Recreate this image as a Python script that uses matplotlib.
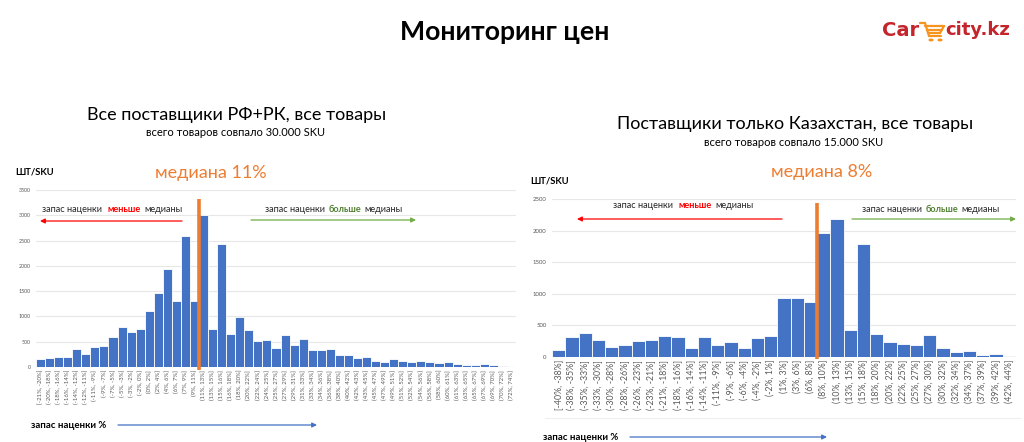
import matplotlib
matplotlib.use("Agg")
import matplotlib.pyplot as plt
from matplotlib import font_manager
from matplotlib.offsetbox import TextArea, HPacker, AnnotationBbox
from matplotlib.patches import FancyArrowPatch, Circle
from matplotlib.lines import Line2D

# ---------------- data ----------------
left_labels = ["[-21%, -20%]", "(-20%, -18%]", "(-18%, -16%]", "(-16%, -14%]", "(-14%, -12%]",
               "(-12%, -11%]", "(-11%, -9%]", "(-9%, -7%]", "(-7%, -5%]", "(-5%, -3%]",
               "(-3%, -2%]", "(-2%, 0%]", "(0%, 2%]", "(2%, 4%]", "(4%, 6%]", "(6%, 7%]",
               "(7%, 9%]", "(9%, 11%]", "(11%, 13%]", "(13%, 15%]", "(15%, 16%]", "(16%, 18%]",
               "(18%, 20%]", "(20%, 22%]", "(22%, 24%]", "(24%, 25%]", "(25%, 27%]", "(27%, 29%]",
               "(29%, 31%]", "(31%, 33%]", "(33%, 34%]", "(34%, 36%]", "(36%, 38%]", "(38%, 40%]",
               "(40%, 42%]", "(42%, 43%]", "(43%, 45%]", "(45%, 47%]", "(47%, 49%]", "(49%, 51%]",
               "(51%, 52%]", "(52%, 54%]", "(54%, 56%]", "(56%, 58%]", "(58%, 60%]", "(60%, 61%]",
               "(61%, 63%]", "(63%, 65%]", "(65%, 67%]", "(67%, 69%]", "(69%, 70%]", "(70%, 72%]",
               "(72%, 74%]"]
left_values = [150, 178, 190, 197, 349, 257, 401, 421, 586, 783, 697, 757, 1112, 1461, 1928,
               1296, 2586, 1296, 3010, 757, 2428, 651, 994, 737, 520, 540, 375, 638, 441, 553,
               336, 336, 355, 230, 230, 178, 204, 125, 92, 158, 118, 92, 118, 92, 79, 105, 53,
               33, 33, 66, 39, 13, 7]
left_median_pos = 17.5
left_median_top = 3320

right_labels = ["[-40%, -38%]", "(-38%, -35%]", "(-35%, -33%]", "(-33%, -30%]", "(-30%, -28%]",
                "(-28%, -26%]", "(-26%, -23%]", "(-23%, -21%]", "(-21%, -18%]", "(-18%, -16%]",
                "(-16%, -14%]", "(-14%, -11%]", "(-11%, -9%]", "(-9%, -6%]", "(-6%, -4%]",
                "(-4%, -2%]", "(-2%, 1%]", "(1%, 3%]", "(3%, 6%]", "(6%, 8%]", "(8%, 10%]",
                "(10%, 13%]", "(13%, 15%]", "(15%, 18%]", "(18%, 20%]", "(20%, 22%]", "(22%, 25%]",
                "(25%, 27%]", "(27%, 30%]", "(30%, 32%]", "(32%, 34%]", "(34%, 37%]", "(37%, 39%]",
                "(39%, 42%]", "(42%, 44%]"]
right_values = [118, 318, 382, 268, 162, 188, 252, 274, 340, 316, 142, 316, 188, 230, 142,
                308, 332, 932, 932, 868, 1968, 2190, 428, 1786, 368, 244, 205, 190, 355, 142,
                79, 95, 32, 45, 10]
right_median_pos = 19.5
right_median_top = 2430

# ---------------- fonts ----------------
avail = {f.name for f in font_manager.fontManager.ttflist}
def pick(names):
    for n in names:
        if n in avail:
            return n
    return "DejaVu Sans"
FONT = pick(["Lato", "Open Sans", "Noto Sans", "DejaVu Sans"])
plt.rcParams['font.family'] = [FONT, 'DejaVu Sans']

BLUE = "#4472c4"
ORANGE = "#ed7d31"
RED = "#ff0000"
GREEN = "#70ad47"
GREEN_T = "#548235"
GRID = "#e7e7e7"
TICK = "#595959"

W, H = 1024, 442
fig = plt.figure(figsize=(W / 100, H / 100), dpi=100)

def fx(x):
    return x / W
def fy(y):
    return 1 - y / H

def ftext(x, y, s, **kw):
    fig.text(fx(x), fy(y), s, **kw)

# ---------------- headings ----------------
ftext(505, 32, "Мониторинг цен", ha="center", va="center", fontsize=19.2, fontweight="bold")
ftext(237, 115, "Все поставщики РФ+РК, все товары", ha="center", va="center", fontsize=13)
ftext(235, 132, "всего товаров совпало 30.000 SKU", ha="center", va="center", fontsize=8)
ftext(795, 124, "Поставщики только Казахстан, все товары", ha="center", va="center", fontsize=13)
ftext(794, 143, "всего товаров совпало 15.000 SKU", ha="center", va="center", fontsize=8)

ftext(15, 172, "ШТ/SKU", ha="left", va="center", fontsize=6.8, fontweight="bold")
ftext(530, 181, "ШТ/SKU", ha="left", va="center", fontsize=6.8, fontweight="bold")
ftext(211, 173, "медиана 11%", ha="center", va="center", fontsize=13, color=ORANGE)
ftext(822, 172, "медиана 8%", ha="center", va="center", fontsize=13, color=ORANGE)

# logo
LOGO_RED = "#c4242b"
ftext(882, 30, "Car", ha="left", va="center", fontsize=14, fontweight="bold", color=LOGO_RED,
      family=["DejaVu Sans"])
cart = "#f7941d"
for (x0, y0, x1, y1) in [(920, 23, 925, 23), (925, 23, 929, 36), (929, 36, 941, 36),
                         (925, 26, 944, 26), (944, 26, 940, 33), (927, 30, 942, 30),
                         (928, 33, 940, 33)]:
    fig.add_artist(Line2D([fx(x0), fx(x1)], [fy(y0), fy(y1)], color=cart, lw=1.6,
                          transform=fig.transFigure, solid_capstyle="round"))
for cx in (931, 940):
    fig.add_artist(Circle((fx(cx), fy(40)), 1.8 / W, transform=fig.transFigure, color=cart))
ftext(945, 30, "city.kz", ha="left", va="center", fontsize=13, fontweight="bold", color=LOGO_RED,
      family=["DejaVu Sans"])

# ---------------- helper: multicolour text ----------------
def multitext(x, y, parts, size=7):
    boxes = [TextArea(s, textprops=dict(color=c, fontsize=size, fontweight=w))
             for s, c, w in parts]
    pack = HPacker(children=boxes, align="baseline", pad=0, sep=2.5)
    ab = AnnotationBbox(pack, (x, H - y), xycoords="figure pixels", box_alignment=(0, 0.5),
                        frameon=False, pad=0)
    fig.add_artist(ab)

def farrow(x0, y0, x1, y1, color, lw=0.9):
    fig.add_artist(FancyArrowPatch((fx(x0), fy(y0)), (fx(x1), fy(y1)),
                                   transform=fig.transFigure, arrowstyle="-|>",
                                   mutation_scale=7, color=color, lw=lw,
                                   shrinkA=0, shrinkB=0))

# ---------------- chart drawing ----------------
def draw(rect, labels, values, ymax, median_pos, median_top, ylab_size, xlab_size):
    ax = fig.add_axes(rect)
    xs = list(range(len(values)))
    ax.bar(xs, values, width=1.0, color=BLUE, edgecolor="white", linewidth=0.6, zorder=2)
    ax.set_xlim(-0.5, len(values) - 0.5)
    ax.set_ylim(0, ymax)
    ax.set_yticks(range(0, ymax + 1, 500))
    ax.grid(axis="y", color=GRID, lw=0.8, zorder=0)
    ax.set_axisbelow(True)
    for s in ax.spines.values():
        s.set_visible(False)
    ax.set_xticks(xs)
    ax.set_xticklabels(labels, rotation=90, fontsize=xlab_size, color=TICK)
    ax.tick_params(axis="both", length=0, pad=2)
    ax.tick_params(axis="y", labelsize=ylab_size, labelcolor=TICK, pad=4)
    ax.axhline(0, color="#d9d9d9", lw=0.8, zorder=1)
    ax.plot([median_pos, median_pos], [-0.015 * ymax, median_top], color=ORANGE, lw=2.6,
            clip_on=False, zorder=3, solid_capstyle="butt")
    return ax

draw([fx(36), fy(367), 480 / W, (367 - 190) / H], left_labels, left_values, 3500,
     left_median_pos, left_median_top, 3.8, 4.3)
draw([fx(552), fy(357), 464 / W, (357 - 199) / H], right_labels, right_values, 2500,
     right_median_pos, right_median_top, 4.3, 6.3)

# annotations inside left chart
multitext(42, 209, [("запас наценки ", "#262626", "normal"), ("меньше", RED, "bold"),
                    ("медианы", "#262626", "normal")], size=6.6)
farrow(182, 221, 40, 221, RED)
multitext(265, 209, [("запас наценки", "#262626", "normal"), ("больше", GREEN_T, "bold"),
                     ("медианы", "#262626", "normal")], size=6.6)
farrow(251, 220, 416, 220, GREEN)

# annotations inside right chart
multitext(613, 206, [("запас наценки ", "#262626", "normal"), ("меньше", RED, "bold"),
                     ("медианы", "#262626", "normal")], size=6.6)
farrow(782, 219, 577, 219, RED)
multitext(862, 209, [("запас наценки", "#262626", "normal"), ("больше", GREEN_T, "bold"),
                     ("медианы", "#262626", "normal")], size=6.6)
farrow(852, 219, 1016, 219, GREEN)

# bottom axis captions
ftext(31, 425, "запас наценки %", ha="left", va="center", fontsize=6.9, fontweight="bold")
farrow(118, 425, 317, 425, BLUE)
ftext(543, 437, "запас наценки %", ha="left", va="center", fontsize=6.9, fontweight="bold")
farrow(630, 437, 827, 437, BLUE)
fig.add_artist(Line2D([fx(545), fx(1020)], [fy(418), fy(418)], color="#eeeeee", lw=0.8,
                      transform=fig.transFigure))

fig.savefig("out.png", dpi=100)
